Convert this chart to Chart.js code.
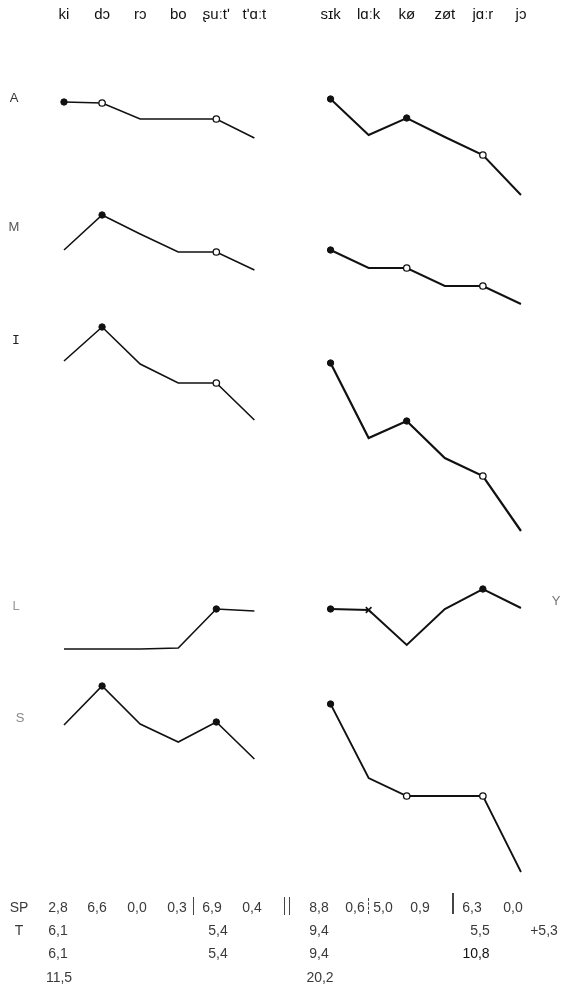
<!DOCTYPE html>
<html>
<head>
<meta charset="utf-8">
<script src="https://cdn.jsdelivr.net/npm/chart.js@4.4.1/dist/chart.umd.min.js"></script>
<style>
  html, body { margin: 0; padding: 0; background: #fff; }
  #wrap { position: relative; width: 575px; height: 997px; overflow: hidden; }
  #chart { position: absolute; left: 0; top: 0; }
  .txt { position: absolute; transform: translate(-50%, -50%); white-space: nowrap;
         font-family: 'Liberation Sans', Arial, sans-serif; line-height: 1; }
  .row { font-size: 13px; color: #555; }
  .cell { font-size: 14px; color: #3a3a3a; }
  .bar { position: absolute; width: 0; }
</style>
</head>
<body>
<div id="wrap">
  <canvas id="chart" width="575" height="997"></canvas>
</div>
<script>
// syllables along the top, two phrases with a gap between them
const syllables = ['ki', 'dɔ', 'rɔ', 'bo', 'ʂuːtʹ', 'tʹɑːt', 'sɪk', 'lɑːk', 'kø', 'zøt', 'jɑːr', 'jɔ'];
const leftPos = [0, 1, 2, 3, 4, 5];
const rightPos = [7, 8, 9, 10, 11, 12];

// contour levels per row (higher = higher), left phrase / right phrase
const aLeft = [9.8, 9.7, 8.1, 8.1, 8.1, 6.2];
const aRight = [10.1, 6.5, 8.2, 6.3, 4.5, 0.5];
const mLeft = [7.0, 10.5, 8.6, 6.8, 6.8, 5.0];
const mRight = [7.0, 5.2, 5.2, 3.4, 3.4, 1.6];
const iLeft = [17.9, 21.3, 17.6, 15.7, 15.7, 12.0];
const iRight = [17.7, 10.2, 11.9, 8.2, 6.4, 0.9];
const lLeft = [1.1, 1.1, 1.1, 1.2, 5.1, 4.9];
const lRight = [5.1, 5.0, 1.5, 5.1, 7.1, 5.2];
const sLeft = [15.5, 19.4, 15.6, 13.8, 15.8, 12.1];
const sRight = [17.6, 10.2, 8.4, 8.4, 8.4, 0.8];

// markers: f = filled dot, o = open ring, x = cross, '' = none
const aLeftMarks = ['f', 'o', '', '', 'o', ''];
const aRightMarks = ['f', '', 'f', '', 'o', ''];
const mLeftMarks = ['', 'f', '', '', 'o', ''];
const mRightMarks = ['f', '', 'o', '', 'o', ''];
const iLeftMarks = ['', 'f', '', '', 'o', ''];
const iRightMarks = ['f', '', 'f', '', 'o', ''];
const lLeftMarks = ['', '', '', '', 'f', ''];
const lRightMarks = ['f', 'x', '', '', 'f', ''];
const sLeftMarks = ['', 'f', '', '', 'f', ''];
const sRightMarks = ['f', '', 'o', '', 'o', ''];

// table under the contours
const spValues = ['2,8', '6,6', '0,0', '0,3', '6,9', '0,4', '8,8', '0,6', '5,0', '0,9', '6,3', '0,0'];
const tRow1 = ['6,1', '5,4', '9,4', '5,5', '+5,3'];
const tRow2 = ['6,1', '5,4', '9,4', '10,8'];
const tRow3 = ['11,5', '20,2'];

// ---- layout ----
const W = 575, H = 997;
const AXIS_H = 30;          // height of the syllable axis on top
const UNIT = 10;            // px per level
const X0 = 64, STEP = 38.08; // px of the first syllable, px between syllables
const rowBase = { A: 200, M: 320, I: 540, L: 660, S: 880 }; // px of level 0

function toPlot(row, level) {
  return level - (rowBase[row] - AXIS_H) / UNIT;
}

function contour(row, positions, levels, marks, width) {
  return {
    data: levels.map((v, i) => ({ x: positions[i], y: toPlot(row, v) })),
    borderColor: '#111',
    borderWidth: width,
    tension: 0,
    fill: false,
    pointStyle: marks.map(m => (m === 'x' ? 'crossRot' : 'circle')),
    pointRadius: marks.map(m => (m === '' ? 0 : m === 'x' ? 4 : 3.2)),
    pointBackgroundColor: marks.map(m => (m === 'o' ? '#fff' : '#111')),
    pointBorderColor: '#111',
    pointBorderWidth: marks.map(m => (m === 'o' ? 1.3 : m === 'x' ? 1.6 : 1)),
  };
}

const datasets = [
  contour('A', leftPos, aLeft, aLeftMarks, 1.6),
  contour('A', rightPos, aRight, aRightMarks, 2),
  contour('M', leftPos, mLeft, mLeftMarks, 1.6),
  contour('M', rightPos, mRight, mRightMarks, 2),
  contour('I', leftPos, iLeft, iLeftMarks, 1.6),
  contour('I', rightPos, iRight, iRightMarks, 2.2),
  contour('L', leftPos, lLeft, lLeftMarks, 1.6),
  contour('L', rightPos, lRight, lRightMarks, 2),
  contour('S', leftPos, sLeft, sLeftMarks, 1.6),
  contour('S', rightPos, sRight, sRightMarks, 1.8),
];

const tickPos = leftPos.concat(rightPos);
const xMin = -X0 / STEP;

new Chart(document.getElementById('chart').getContext('2d'), {
  type: 'line',
  data: { datasets },
  options: {
    responsive: false,
    animation: false,
    devicePixelRatio: 1,
    layout: { padding: 0, autoPadding: false },
    plugins: { legend: { display: false }, tooltip: { enabled: false } },
    scales: {
      x: {
        type: 'linear',
        position: 'top',
        min: xMin,
        max: xMin + W / STEP,
        grid: { display: false, drawTicks: false },
        border: { display: false },
        afterBuildTicks: s => { s.ticks = tickPos.map(v => ({ value: v })); },
        afterFit: s => { s.height = AXIS_H; },
        ticks: {
          autoSkip: false,
          maxRotation: 0,
          padding: 6,
          color: '#111',
          font: { family: "'Liberation Sans', Arial, sans-serif", size: 15 },
          callback: (v, i) => syllables[i],
        },
      },
      y: {
        type: 'linear',
        display: false,
        min: -(H - AXIS_H) / UNIT,
        max: 0,
      },
    },
  },
});

// ---- row names and the table, as plain text ----
const wrap = document.getElementById('wrap');
function put(text, x, y, cls, extra) {
  const d = document.createElement('div');
  d.className = 'txt ' + cls;
  d.textContent = text;
  d.style.left = x + 'px';
  d.style.top = y + 'px';
  if (extra) Object.assign(d.style, extra);
  wrap.appendChild(d);
}
function bar(x, y0, y1, w, style) {
  const d = document.createElement('div');
  d.className = 'bar';
  d.style.left = x + 'px';
  d.style.top = y0 + 'px';
  d.style.height = (y1 - y0) + 'px';
  d.style.borderLeft = w + 'px ' + (style || 'solid') + ' #444';
  wrap.appendChild(d);
}

put('A', 14, 97, 'row', { color: '#333' });
put('M', 14, 226, 'row');
put('I', 16, 339, 'row', { fontFamily: "'DejaVu Sans Mono', monospace", color: '#222' });
put('L', 16, 605, 'row', { color: '#999' });
put('S', 20, 717, 'row', { color: '#888' });
put('Y', 556, 600, 'row', { color: '#777' });

const spX = [58, 97, 137, 177, 212, 252, 319, 355, 383, 420, 472, 513];
const tRow1X = [58, 218, 319, 480, 544];
const tRow2X = [58, 218, 319, 476];
const tRow3X = [59, 320];
const rowY = [907, 930, 953, 977];

put('SP', 19, rowY[0], 'cell');
spValues.forEach((v, i) => put(v, spX[i], rowY[0], 'cell'));
put('T', 19, rowY[1], 'cell');
tRow1.forEach((v, i) => put(v, tRow1X[i], rowY[1], 'cell'));
tRow2.forEach((v, i) => put(v, tRow2X[i], rowY[2], 'cell', v === '10,8' ? { color: '#111' } : null));
tRow3.forEach((v, i) => put(v, tRow3X[i], rowY[3], 'cell'));

// separators between syllable groups
bar(193, 897, 915, 1.5);
bar(284, 897, 915, 1);
bar(289, 897, 915, 1);
bar(368, 898, 914, 1, 'dashed');
bar(452, 893, 914, 2);
</script>
</body>
</html>
